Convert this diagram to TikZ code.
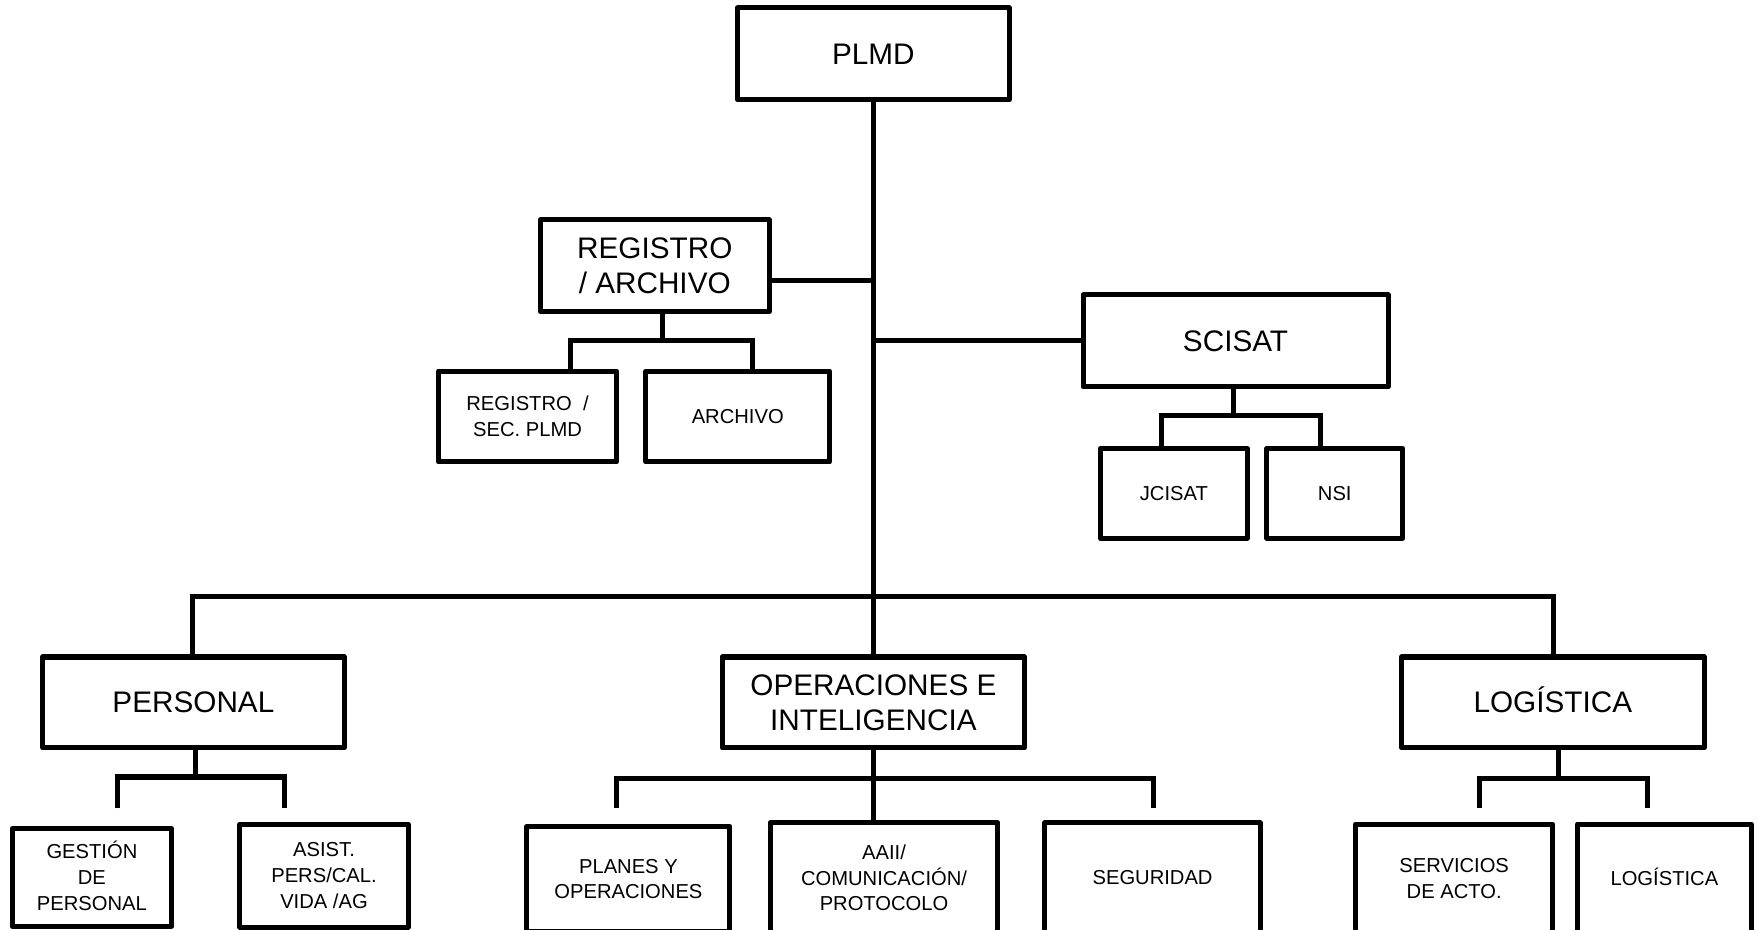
\documentclass[tikz,border=0pt]{standalone}
\usepackage{fontspec}
\setmainfont{Liberation Sans}
\begin{document}
\begin{tikzpicture}[x=1pt, y=-1pt,
    unit/.style = {draw, line width=4.5pt, line join=round, align=center, inner sep=0pt, font=\fontsize{26.5}{31}\selectfont},
    sub/.style = {unit, font=\fontsize{18}{23}\selectfont},
    link/.style = {line width=4.5pt}]
                \clip (0,0) rectangle (1568,829);

                \node[unit, minimum width=242pt, minimum height=82pt] (plmd) at (779,48) {PLMD};
                \node[unit, minimum width=204pt, minimum height=82pt] (regarch) at (584,237) {REGISTRO\\/ ARCHIVO};
                \node[unit, minimum width=272pt, minimum height=82pt] (scisat) at (1102,304) {SCISAT};
                \node[sub, minimum width=159pt, minimum height=81pt] (regsec) at (470.5,371.5) {REGISTRO~~/\\SEC. PLMD};
                \node[sub, minimum width=164pt, minimum height=81pt] (arch) at (658,371.5) {ARCHIVO};
                \node[sub, minimum width=131pt, minimum height=80pt] (jcisat) at (1047,440) {JCISAT};
                \node[sub, minimum width=121pt, minimum height=80pt] (nsi) at (1190.5,440) {NSI};

                \node[unit, minimum width=269pt, minimum height=81pt] (personal) at (172.5,626.5) {PERSONAL};
                \node[unit, minimum width=270pt, minimum height=81pt] (oper) at (779,626.5) {OPERACIONES E\\INTELIGENCIA};
                \node[unit, minimum width=270pt, minimum height=81pt] (logist) at (1385,626.5) {LOG\smash{Í}STICA};

                \node[sub, minimum width=142pt, minimum height=87pt] (gestion) at (82,782.5) {GESTI\smash{Ó}N\\DE\\PERSONAL};
                \node[sub, minimum width=150pt, minimum height=92pt] (asist) at (289,781) {ASIST.\\PERS/CAL.\\VIDA /AG};
                \node[sub, minimum width=181pt, minimum height=94pt] (planes) at (560.5,784) {PLANES Y\\OPERACIONES};
                \node[sub, minimum width=203pt, minimum height=98pt] (aaii) at (788.5,783) {AAII/\\COMUNICACIÓN/\\PROTOCOLO};
                \node[sub, minimum width=192pt, minimum height=98pt] (segur) at (1028,783) {SEGURIDAD};
                \node[sub, minimum width=176pt, minimum height=97pt] (serv) at (1297,783.5) {SERVICIOS\\DE ACTO.};
                \node[sub, minimum width=155pt, minimum height=97pt] (logsub) at (1484.5,783.5) {LOG\smash{Í}STICA};

                \coordinate (r1) at (779,250);
                \coordinate (rs) at (591,304);
                \coordinate (rsl) at (509,304);
                \coordinate (rsr) at (671,304);
                \coordinate (ss) at (1100,371);
                \coordinate (ssl) at (1036,371);
                \coordinate (ssr) at (1178,371);
                \coordinate (bl) at (172,532);
                \coordinate (br) at (1386,532);
                \coordinate (ps) at (174,693);
                \coordinate (psl) at (105,693);
                \coordinate (psr) at (254,693);
                \coordinate (pel) at (105,721);
                \coordinate (per) at (254,721);
                \coordinate (osl) at (550,694);
                \coordinate (osr) at (1029,694);
                \coordinate (oel) at (550,721);
                \coordinate (oer) at (1029,721);
                \coordinate (ls) at (1390,694);
                \coordinate (lsl) at (1320,694);
                \coordinate (lsr) at (1469,694);
                \coordinate (lel) at (1320,721);
                \coordinate (ler) at (1469,721);

                \draw[link] (plmd) -- (oper);
                \draw[link] (regarch.east |- r1) -- (r1);
                \draw[link] (plmd.south |- scisat.west) -- (scisat.west);
                \draw[link] (regarch.south -| rs) -- (rs);
                \draw[link] (regsec.north -| rsl) -- (rsl) -- (rsr) -- (arch.north -| rsr);
                \draw[link] (scisat.south -| ss) -- (ss);
                \draw[link] (jcisat.north -| ssl) -- (ssl) -- (ssr) -- (nsi.north -| ssr);
                \draw[link] (personal.north -| bl) -- (bl) -- (br) -- (logist.north -| br);
                \draw[link] (personal.south -| ps) -- (ps);
                \draw[link] (pel) -- (psl) -- (psr) -- (per);
                \draw[link] (oper.south) -- (aaii.north -| oper.south);
                \draw[link] (oel) -- (osl) -- (osr) -- (oer);
                \draw[link] (logist.south -| ls) -- (ls);
                \draw[link] (lel) -- (lsl) -- (lsr) -- (ler);
\end{tikzpicture}
\end{document}
